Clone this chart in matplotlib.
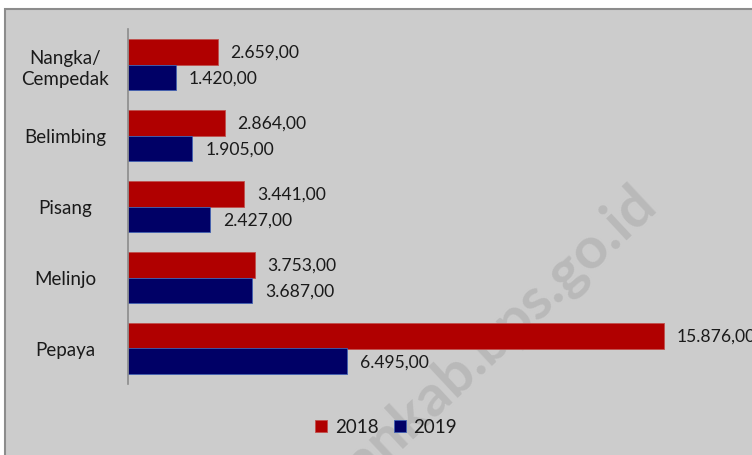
import matplotlib.pyplot as plt
import numpy as np
from matplotlib.patches import Rectangle

# produksi buah per jenis (top to bottom)
categories = ["Nangka/\nCempedak", "Belimbing", "Pisang", "Melinjo", "Pepaya"]
values_2018 = [2659, 2864, 3441, 3753, 15876]
values_2019 = [1420, 1905, 2427, 3687, 6495]
series_labels = ["2018", "2019"]

plt.rcParams['font.family'] = ['Lato', 'DejaVu Sans']

fig = plt.figure(figsize=(7.52, 4.56), dpi=100)
fig.patch.set_facecolor("white")

# gray chart area with border (cropped at right/bottom)
fig.patches.append(Rectangle((5 / 752, -0.1), 1.2, (450 - 4) / 456 + 0.1,
                             transform=fig.transFigure, facecolor="#cccccc",
                             edgecolor="#8c8c8c", linewidth=1.5, zorder=-10))

# watermark
fig.text(648 / 752, 1 - 196 / 456, "slemankab.bps.go.id", rotation=43, rotation_mode="anchor",
         ha="right", va="center", fontsize=42, fontweight="bold", color="#b9b9b9", zorder=-5)

ax = fig.add_axes([128 / 752, 1 - 385 / 456, 1 - 128 / 752, 355 / 456])
ax.set_facecolor("none")

y = np.arange(len(categories))
h = 0.36
red = "#b00000"
navy = "#000066"
ax.barh(y - h / 2, values_2018, height=h, color=red, edgecolor="#c0504d", linewidth=0.6, label=series_labels[0])
ax.barh(y + h / 2, values_2019, height=h, color=navy, edgecolor="#4060b0", linewidth=0.6, label=series_labels[1])

def fmt(v):
    return f"{v:,.2f}".replace(",", "X").replace(".", ",").replace("X", ".")

for yi, v in zip(y, values_2018):
    ax.text(v + 380, yi - h / 2, fmt(v), va="center", ha="left", fontsize=12.6, color="#1a1a1a")
for yi, v in zip(y, values_2019):
    ax.text(v + 380, yi + h / 2, fmt(v), va="center", ha="left", fontsize=12.6, color="#1a1a1a")

ax.set_ylim(len(categories) - 0.5, -0.5)
ax.set_xlim(0, (752 - 128) / ((664 - 128) / 15876))
ax.set_yticks(y)
ax.set_yticklabels(categories, fontsize=13.5, color="#1a1a1a", ha="center", linespacing=1.3)
ax.tick_params(axis="y", length=0, pad=45)
ax.set_xticks([])
for s in ["top", "right", "bottom"]:
    ax.spines[s].set_visible(False)
ax.spines["left"].set_color("#8c8c8c")
ax.spines["left"].set_linewidth(1.2)

leg = fig.legend(loc="center", bbox_to_anchor=(386 / 752, 1 - 428 / 456), ncol=2,
                 frameon=False, fontsize=13.5, handlelength=0.65, handleheight=0.65,
                 handletextpad=0.4, columnspacing=0.8)
for t in leg.get_texts():
    t.set_color("#1a1a1a")

fig.savefig("out.png", dpi=100)
